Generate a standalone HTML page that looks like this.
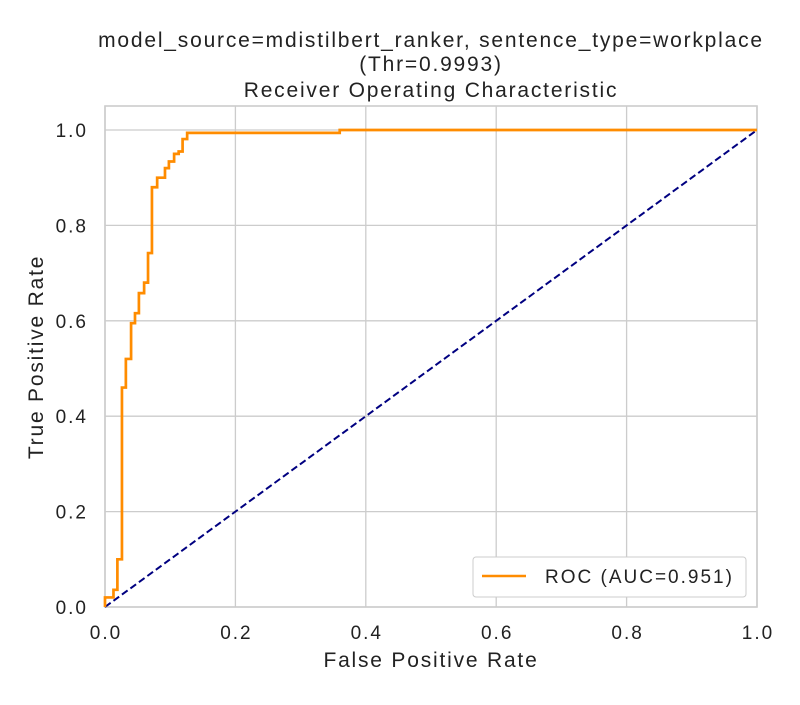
<!DOCTYPE html>
<html><head><meta charset="utf-8"><style>
body{margin:0;background:#fff;}
svg{font-family:"Liberation Sans","DejaVu Sans",sans-serif;}
</style></head><body>
<svg id="chart" width="800" height="700" viewBox="0 0 800 700">
<rect width="800" height="700" fill="#fff"/>
<g id="grid"></g>
<rect x="105" y="106" width="652" height="501" fill="none" stroke="#cccccc" stroke-width="1.6"/>
<g id="ticks"></g>
<g id="marks"></g>
<g font-size="21" letter-spacing="1.8" fill="#222" text-anchor="middle">
<text x="431" y="47">model_source=mdistilbert_ranker, sentence_type=workplace</text>
<text x="431" y="71">(Thr=0.9993)</text>
<text x="431" y="97">Receiver Operating Characteristic</text>
<text x="431" y="667">False Positive Rate</text>
<text transform="translate(43,357) rotate(-90)">True Positive Rate</text>
</g>
<g>
<rect x="473" y="557" width="273" height="40" rx="3" fill="#fff" stroke="#cccccc" stroke-width="1"/>
<line x1="482" y1="576" x2="526" y2="576" stroke="#ff8c00" stroke-width="2.5"/>
<text x="545" y="583" font-size="19" letter-spacing="2" fill="#222">ROC (AUC=0.951)</text>
</g>
</svg>
<script>
const fpr = [0,0,0.013,0.013,0.019,0.019,0.026,0.026,0.032,0.032,0.040,0.040,0.046,0.046,0.052,0.052,0.060,0.060,0.066,0.066,0.072,0.072,0.080,0.080,0.092,0.092,0.098,0.098,0.106,0.106,0.113,0.113,0.119,0.119,0.126,0.126,0.36,0.36,1.0];
const tpr = [0,0.02,0.02,0.036,0.036,0.10,0.10,0.46,0.46,0.52,0.52,0.595,0.595,0.616,0.616,0.658,0.658,0.68,0.68,0.742,0.742,0.88,0.88,0.90,0.90,0.92,0.92,0.934,0.934,0.95,0.95,0.955,0.955,0.981,0.981,0.994,0.994,1.0,1.0];
const xTicks = [0,0.2,0.4,0.6,0.8,1.0];
const yTicks = [0,0.2,0.4,0.6,0.8,1.0];
const xLabels = ["0.0","0.2","0.4","0.6","0.8","1.0"];
const yLabels = ["0.0","0.2","0.4","0.6","0.8","1.0"];
const NS="http://www.w3.org/2000/svg";
const X=v=>105+v*652, Y=v=>607-v*477;
const grid=document.getElementById('grid'), ticks=document.getElementById('ticks'), marks=document.getElementById('marks');
xTicks.forEach((t,i)=>{
  const l=document.createElementNS(NS,'line');
  l.setAttribute('x1',X(t));l.setAttribute('x2',X(t));l.setAttribute('y1',106);l.setAttribute('y2',607);
  l.setAttribute('stroke','#cccccc');l.setAttribute('stroke-width','1.3');
  
  
  grid.appendChild(l);
  const tx=document.createElementNS(NS,'text');
  tx.setAttribute('x',X(t)+1);tx.setAttribute('y',639);tx.setAttribute('text-anchor','middle');tx.setAttribute('font-size','19');tx.setAttribute('letter-spacing','2');tx.setAttribute('fill','#222');
  tx.textContent=xLabels[i];
  
  
  ticks.appendChild(tx);
});
yTicks.forEach((t,i)=>{
  const l=document.createElementNS(NS,'line');
  l.setAttribute('x1',105);l.setAttribute('x2',757);l.setAttribute('y1',Y(t));l.setAttribute('y2',Y(t));
  l.setAttribute('stroke','#cccccc');l.setAttribute('stroke-width','1.3');
  
  
  grid.appendChild(l);
  const tx=document.createElementNS(NS,'text');
  tx.setAttribute('x',88);tx.setAttribute('y',Y(t)+7);tx.setAttribute('text-anchor','end');tx.setAttribute('font-size','19');tx.setAttribute('letter-spacing','2');tx.setAttribute('fill','#222');
  tx.textContent=yLabels[i];
  
  
  ticks.appendChild(tx);
});
const diag=document.createElementNS(NS,'line');
diag.setAttribute('x1',X(0));diag.setAttribute('y1',Y(0));diag.setAttribute('x2',X(1));diag.setAttribute('y2',Y(1));
diag.setAttribute('stroke','#000080');diag.setAttribute('stroke-width','2');diag.setAttribute('stroke-dasharray','7,3.5');


marks.appendChild(diag);
const p=document.createElementNS(NS,'polyline');
p.setAttribute('points',fpr.map((v,i)=>X(v)+','+Y(tpr[i])).join(' '));
p.setAttribute('fill','none');p.setAttribute('stroke','#ff8c00');p.setAttribute('stroke-width','2.7');


marks.appendChild(p);
</script>
</body></html>
